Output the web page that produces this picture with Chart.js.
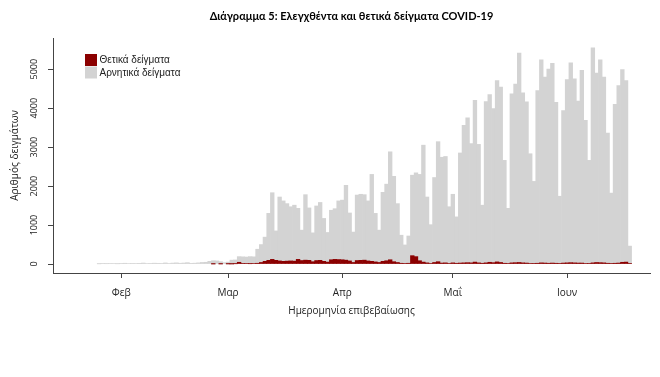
<!DOCTYPE html>
<html>
<head>
<meta charset="utf-8">
<script src="https://cdn.jsdelivr.net/npm/chart.js@4.4.1/dist/chart.umd.min.js"></script>
<style>
  html, body { margin: 0; padding: 0; background: #fff; }
</style>
</head>
<body>
<canvas id="chart" width="660" height="377"></canvas>
<script>
// daily samples from 14 Jan 2020 (one value per day)
const startDate = '2020-01-14'
const monthNames = ['Ιαν', 'Φεβ', 'Μαρ', 'Απρ', 'Μαΐ', 'Ιουν', 'Ιουλ']
const yTicks = [0, 1000, 2000, 3000, 4000, 5000]

const positive = [
  0, 0, 0, 0, 0, 0, 0, 0, 0, 0, 0, 0, 0, 0, 0, 0, 0, 0, 0, 0,
  0, 0, 0, 0, 0, 0, 0, 0, 0, 0, 0, 0, 0, 0, 0, 0, 0, 0, 0, 0,
  0, 0, 0, 1, 0, 2, 0, 3,
  2, 7, 45, 10, 15, 8, 12, 20, 40, 70,
  95, 120, 95, 80, 70, 75, 80, 75, 120, 90,
  100, 95, 60, 90, 95, 70, 50, 110, 120, 115,
  110, 100, 80, 40, 90, 95, 100, 80, 70, 55,
  40, 70, 85, 110, 60, 40, 20, 15, 20, 215,
  190, 85, 50, 30, 15, 40, 60, 25, 30, 15,
  30, 20, 25, 30, 35, 30, 50, 30, 20, 30,
  45, 35, 55, 40, 20, 15, 30, 35, 40, 30,
  25, 15, 10, 20, 30, 25, 20, 25, 20, 10,
  25, 30, 35, 30, 25, 25, 15, 10, 30, 40,
  35, 30, 20, 10, 20, 25, 45, 50, 10,
  0, 0, 0, 0, 0
]

const negative = [
  0, 0, 0, 0, 0, 0, 0, 0, 0, 0, 0, 0,
  5, 10, 8, 15, 12, 6, 10, 20, 14, 9, 11, 18, 25, 12, 16, 22, 19, 10, 28,
  15, 24, 30, 20, 26, 35, 18, 22, 30, 40,
  45, 70, 84, 80, 58, 35, 47,
  98, 98, 145, 175, 165, 182, 173, 360, 460, 620,
  1205, 1710, 755, 1640, 1550, 1475, 1390, 1435, 1310, 780,
  1680, 1345, 740, 1400, 1485, 1100, 760, 1270, 1300, 1505,
  1530, 1920, 1230, 780, 1680, 1695, 1680, 1540, 2230, 1245,
  830, 1770, 1965, 2770, 2190, 1510, 720, 475, 700, 2065,
  2150, 2215, 3000, 1690, 995, 2180, 3080, 2715, 2730, 1455,
  1760, 1190, 2825, 3530, 3715, 3060, 4150, 3040, 1490, 4140,
  4305, 3955, 4655, 4500, 2640, 1415, 4340, 4585, 5370, 4360,
  4135, 2815, 2110, 4430, 5210, 4775, 4980, 5125, 4130, 1730,
  3915, 4700, 5125, 4720, 4155, 4945, 3675, 2650, 5520, 4860,
  5205, 4770, 3340, 1810, 4080, 4555, 4945, 4660, 450,
  0, 0, 0, 0, 0
]

const days = []
const t0 = new Date(startDate + 'T00:00:00Z').getTime()
for (let i = 0; i < negative.length; i++) {
  days.push(new Date(t0 + i * 86400000).toISOString().slice(0, 10))
}

const AXIS = '#444'
const TEXT = '#222'
const FONT = '"Open Sans", "Liberation Sans", sans-serif'

// legend drawn inside the plot, top left
const innerLegend = {
  id: 'innerLegend',
  afterDraw(chart) {
    const { ctx, chartArea } = chart
    ctx.save()
    ctx.font = '10px "Liberation Sans", Arial, sans-serif'
    ctx.textBaseline = 'middle'
    ctx.textAlign = 'left'
    chart.data.datasets.forEach((ds, i) => {
      const x = chartArea.left + 32
      const y = chartArea.top + 16 + i * 12.5
      ctx.fillStyle = ds.backgroundColor
      ctx.fillRect(x, y, 12, 12)
      ctx.fillStyle = '#222'
      ctx.fillText(ds.label, x + 14.5, y + 6.5)
    })
    ctx.restore()
  }
}

// no seam fill for empty days
const inflate = c => (c.raw > 0 ? 0.33 : 0)

new Chart(document.getElementById('chart'), {
  type: 'bar',
  data: {
    labels: days,
    datasets: [
      { label: 'Θετικά δείγματα',   data: positive, backgroundColor: '#8b0000', borderWidth: 0, inflateAmount: inflate },
      { label: 'Αρνητικά δείγματα', data: negative, backgroundColor: '#d3d3d3', borderWidth: 0, inflateAmount: inflate },
    ],
  },
  options: {
    responsive: false,
    animation: false,
    devicePixelRatio: 1,
    layout: { padding: { left: 0, right: 10, top: 0, bottom: 0 } },
    datasets: { bar: { barPercentage: 1, categoryPercentage: 1 } },
    scales: {
      x: {
        stacked: true,
        afterFit: s => { s.height = 104 },
        afterBuildTicks: s => {
          s.ticks = s.ticks.filter(t => days[t.value].endsWith('-01'))
        },
        ticks: {
          autoSkip: false,
          maxRotation: 0,
          padding: 9,
          color: TEXT,
          font: { family: FONT, size: 10 },
          callback(v) { return monthNames[+days[v].slice(5, 7) - 1] },
        },
        grid: { display: true, drawOnChartArea: false, offset: false, tickLength: 5, tickColor: AXIS },
        border: { display: true, color: AXIS, width: 1 },
        title: {
          display: true,
          text: 'Ημερομηνία επιβεβαίωσης',
          color: TEXT,
          font: { family: FONT, size: 10 },
          padding: { top: 0, bottom: 60 },
        },
      },
      y: {
        stacked: true,
        min: -230,
        max: 5800,
        afterFit: s => { s.width = 53 },
        afterBuildTicks: s => { s.ticks = yTicks.map(v => ({ value: v })) },
        ticks: {
          minRotation: 90,
          maxRotation: 90,
          crossAlign: 'center',
          padding: 3,
          color: TEXT,
          font: { family: FONT, size: 9 },
          callback: v => String(v),
        },
        grid: { display: true, drawOnChartArea: false, tickLength: 5, tickColor: AXIS },
        border: { display: true, color: AXIS, width: 1 },
        title: {
          display: true,
          text: 'Αριθμός δειγμάτων',
          color: TEXT,
          font: { family: FONT, size: 10 },
          padding: { top: 9, bottom: 0 },
        },
      },
    },
    plugins: {
      legend: { display: false },
      tooltip: { enabled: false },
      title: {
        display: true,
        fullSize: false,
        text: 'Διάγραμμα 5: Ελεγχθέντα και θετικά δείγματα COVID-19',
        color: '#000',
        font: { family: '"Liberation Sans Narrow", Lato, sans-serif', size: 11, weight: 'bold' },
        padding: { top: 10, bottom: 14.8 },
      },
    },
  },
  plugins: [innerLegend],
})
</script>
</body>
</html>
